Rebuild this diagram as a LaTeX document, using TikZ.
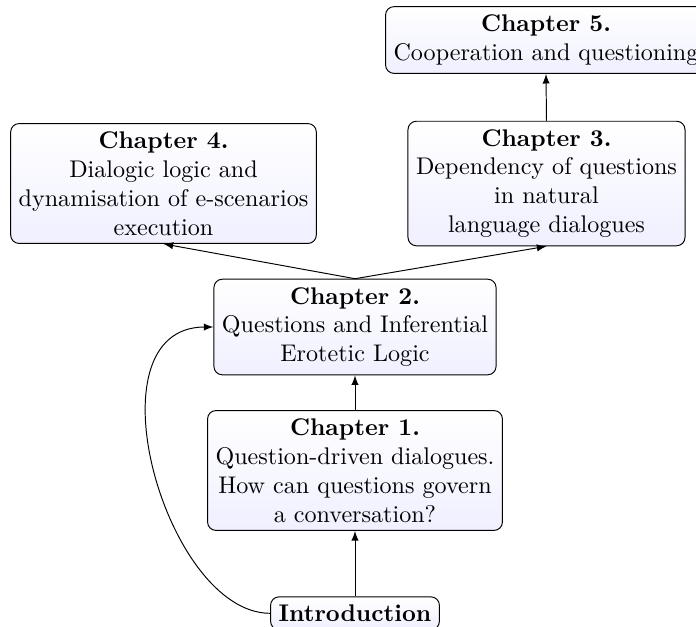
\documentclass[tikz,border=0pt]{standalone}
\usetikzlibrary{arrows}
\begin{document}
\begin{tikzpicture}[x=0.415pt,y=-0.415pt,
  box/.style={draw, rounded corners=3.5pt, align=center, inner sep=3.33pt,
    top color=white, bottom color=blue!6, font=\fontsize{10}{12}\selectfont},
  link/.style={-latex, line width=0.4pt}]
\useasboundingbox (0,0) rectangle (696,626);
\node[box] (ch5) at (546,40) {\textbf{Chapter 5.}\\Cooperation and questioning};
\node[box] (ch3) at (546.5,183.5) {\textbf{Chapter 3.}\\Dependency of questions\\in natural\\language dialogues};
\node[box] (ch4) at (163.5,183.5) {\textbf{Chapter 4.}\\Dialogic logic and\\dynamisation of e-scenarios\\execution};
\node[box] (ch2) at (355,327) {\textbf{Chapter 2.}\\Questions and Inferential\\Erotetic Logic};
\node[box] (ch1) at (355,470.5) {\textbf{Chapter 1.}\\Question-driven dialogues.\\How can questions govern\\a conversation?};
\node[box] (intro) at (355,613.3) {\textbf{Introduction}};
\draw[link] (ch2.north) -- (ch4.south);
\draw[link] (ch2.north) -- (ch3.south);
\draw[link] (ch3.north) -- (ch5.south);
\draw[link] (ch1.north) -- (ch2.south);
\draw[link] (intro.north) -- (ch1.south);
\draw[link] (intro.west) .. controls +(-105,0) and +(-128,0) .. (ch2.west);
\end{tikzpicture}
\end{document}
